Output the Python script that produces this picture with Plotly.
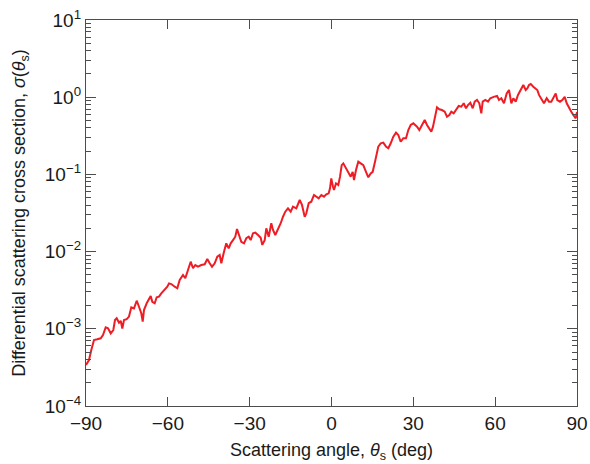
import plotly.graph_objects as go

angle_deg = [
    -90.0, -88.9, -88.06, -87.69, -87.07, -85.86, -84.61, -83.77, -82.78, -81.93,
    -80.94, -79.99, -79.37, -78.75, -77.90, -77.28, -76.69, -76.07, -75.08, -74.24,
    -73.39, -72.40, -71.41, -70.57, -69.73, -69.21, -68.74, -67.75, -66.90, -66.28,
    -65.69, -64.81, -64.08, -63.24, -62.40, -61.41, -60.78, -60.20, -59.57, -58.73,
    -57.48, -56.53, -55.65, -54.44, -53.60, -52.61, -51.62, -50.77, -49.93, -48.94,
    -47.73, -46.49, -45.53, -44.65, -43.81, -42.82, -41.87, -40.99, -40.40, -39.41,
    -38.57, -37.69, -36.95, -36.11, -35.27, -34.64, -33.91, -33.07, -32.08, -31.23,
    -30.35, -29.62, -28.78, -27.93, -26.94, -25.95, -25.37, -24.49, -23.90, -23.02,
    -22.07, -21.45, -20.60, -19.61, -18.62, -17.78, -16.94, -15.95, -14.96, -14.11,
    -12.90, -11.66, -10.82, -9.83, -9.24, -8.36, -7.41, -6.42, -5.58, -4.69,
    -3.74, -2.75, -1.91, -1.03, -0.55, -0.08, 0.55, 0.92, 1.65, 2.49,
    3.12, 3.74, 4.33, 5.32, 6.16, 7.04, 7.77, 8.25, 8.98, 9.83,
    10.71, 11.66, 12.65, 13.49, 14.37, 15.10, 15.95, 16.57, 17.16, 18.04,
    18.99, 19.98, 20.83, 21.71, 22.66, 23.65, 24.49, 25.37, 26.32, 27.31,
    28.16, 29.04, 29.99, 31.35, 32.19, 33.18, 34.17, 35.01, 35.86, 36.59,
    37.21, 37.84, 38.68, 39.52, 40.51, 41.50, 42.34, 43.19, 43.92, 44.80,
    45.64, 46.63, 47.59, 48.47, 49.31, 50.04, 50.89, 51.77, 52.50, 53.34,
    54.19, 54.92, 55.43, 56.39, 57.38, 58.22, 59.47, 60.68, 61.40, 62.25,
    63.24, 64.23, 65.07, 65.92, 66.65, 67.53, 68.37, 69.36, 70.32, 71.20,
    71.78, 72.41, 73.03, 73.98, 74.86, 75.45, 76.07, 76.91, 77.90, 78.89,
    79.74, 80.58, 81.57, 82.19, 82.78, 83.77, 84.61, 85.49, 86.23, 87.07,
    87.91, 88.65, 89.53, 90.0,
]

cross_section = [
    3.4e-4, 3.94e-4, 5.31e-4, 6.17e-4, 7.16e-4, 7.31e-4, 7.53e-4, 8.32e-4, 1.045e-3, 1.014e-3,
    8.74e-4, 9.64e-4, 1.30e-3, 1.37e-3, 1.20e-3, 1.27e-3, 1.01e-3, 1.30e-3, 1.33e-3, 1.44e-3,
    1.90e-3, 1.84e-3, 2.31e-3, 1.93e-3, 1.59e-3, 1.24e-3, 1.75e-3, 2.14e-3, 2.48e-3, 2.66e-3,
    2.24e-3, 2.14e-3, 2.56e-3, 2.61e-3, 2.88e-3, 3.12e-3, 3.35e-3, 3.51e-3, 3.88e-3, 3.80e-3,
    3.51e-3, 3.35e-3, 4.29e-3, 4.98e-3, 4.51e-3, 5.78e-3, 7.40e-3, 6.08e-3, 6.70e-3, 6.37e-3,
    6.70e-3, 6.85e-3, 8.02e-3, 7.05e-3, 6.37e-3, 7.05e-3, 8.59e-3, 9.04e-3, 7.05e-3, 9.97e-3,
    1.28e-2, 1.10e-2, 1.28e-2, 1.41e-2, 1.56e-2, 1.96e-2, 1.64e-2, 1.34e-2, 1.28e-2, 1.49e-2,
    1.56e-2, 1.41e-2, 1.73e-2, 1.76e-2, 1.64e-2, 1.51e-2, 1.22e-2, 1.41e-2, 2.00e-2, 1.56e-2,
    2.33e-2, 1.91e-2, 1.64e-2, 1.91e-2, 2.33e-2, 2.83e-2, 3.29e-2, 3.64e-2, 3.29e-2, 3.82e-2,
    3.64e-2, 4.66e-2, 4.02e-2, 2.83e-2, 3.13e-2, 4.23e-2, 4.43e-2, 5.41e-2, 5.14e-2, 4.90e-2,
    5.41e-2, 5.14e-2, 5.52e-2, 5.69e-2, 6.61e-2, 8.89e-2, 6.93e-2, 6.28e-2, 7.67e-2, 7.29e-2,
    9.33e-2, 0.132, 0.139, 0.120, 0.108, 9.33e-2, 0.108, 8.45e-2, 0.114, 0.146,
    0.139, 0.132, 0.108, 9.16e-2, 0.103, 0.108, 0.146, 0.188, 0.229, 0.253,
    0.258, 0.229, 0.218, 0.253, 0.308, 0.347, 0.324, 0.265, 0.294, 0.294,
    0.376, 0.437, 0.459, 0.415, 0.376, 0.437, 0.507, 0.437, 0.395, 0.357,
    0.415, 0.558, 0.740, 0.697, 0.682, 0.649, 0.558, 0.587, 0.649, 0.618,
    0.682, 0.769, 0.753, 0.834, 0.718, 0.792, 0.849, 0.718, 0.875, 0.920,
    0.834, 0.618, 0.875, 0.920, 0.875, 0.968, 1.01, 1.04, 0.920, 0.968,
    0.834, 1.12, 1.24, 0.834, 0.968, 0.875, 1.07, 1.24, 1.44, 1.24,
    1.30, 1.44, 1.48, 1.37, 1.30, 1.24, 1.07, 0.968, 0.834, 0.968,
    0.875, 0.875, 1.01, 1.12, 0.920, 0.875, 0.920, 1.01, 0.834, 0.718,
    0.649, 0.587, 0.533, 0.643,
]

x_tick_vals = [-90, -60, -30, 0, 30, 60, 90]
x_tick_text = ["\u221290", "\u221260", "\u221230", "0", "30", "60", "90"]
y_tick_vals = [1e-4, 1e-3, 1e-2, 1e-1, 1e0, 1e1]
y_tick_text = ["10<sup>\u22124</sup>", "10<sup>\u22123</sup>", "10<sup>\u22122</sup>",
               "10<sup>\u22121</sup>", "10<sup>0</sup>", "10<sup>1</sup>"]
y_minor_vals = [k * 10.0 ** n for n in range(-4, 1) for k in range(2, 10)]

FONT = "Liberation Sans, Arial, sans-serif"
AXIS_COLOR = "#4d4d4d"
TEXT_COLOR = "#1a1a1a"

fig = go.Figure()
fig.add_trace(go.Scatter(
    x=angle_deg, y=cross_section, mode="lines",
    line=dict(color="#ee1d25", width=2),
    showlegend=False,
))

fig.update_layout(
    width=590, height=464,
    margin=dict(l=86, r=13, t=20, b=58),
    paper_bgcolor="white", plot_bgcolor="white",
    font=dict(family=FONT, size=18, color=TEXT_COLOR),
)

fig.update_xaxes(
    range=[-90, 90], automargin=False,
    tickmode="array", tickvals=x_tick_vals, ticktext=x_tick_text,
    ticks="inside", ticklen=9, tickwidth=1.2, tickcolor=AXIS_COLOR,
    showline=True, linecolor=AXIS_COLOR, linewidth=1.3, mirror="allticks",
    showgrid=False, zeroline=False,
    tickfont=dict(size=19, family=FONT, color=TEXT_COLOR),
    title=dict(text="Scattering angle, <i>\u03b8</i><sub>s</sub> (deg)",
               font=dict(size=18, family=FONT, color=TEXT_COLOR), standoff=10),
)

fig.update_yaxes(
    type="log", range=[-4, 1], automargin=False,
    tickmode="array", tickvals=y_tick_vals, ticktext=y_tick_text,
    ticks="inside", ticklen=10, tickwidth=1.2, tickcolor=AXIS_COLOR,
    showline=True, linecolor=AXIS_COLOR, linewidth=1.3, mirror="allticks",
    showgrid=False, zeroline=False,
    minor=dict(tickmode="array", tickvals=y_minor_vals, ticks="inside",
               ticklen=5, tickwidth=1, tickcolor=AXIS_COLOR, showgrid=False),
    tickfont=dict(size=19, family=FONT, color=TEXT_COLOR),
    title=dict(text="Differential scattering cross section, <i>\u03c3</i>(<i>\u03b8</i><sub>s</sub>)",
               font=dict(size=18, family=FONT, color=TEXT_COLOR), standoff=14),
)

fig.write_html("out.html")
